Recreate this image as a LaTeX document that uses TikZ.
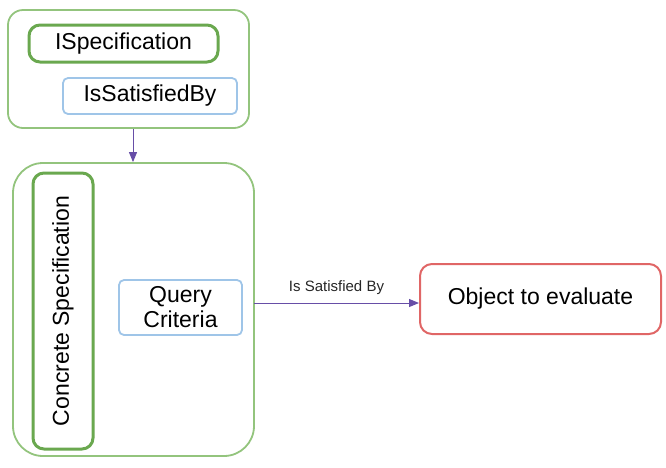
\documentclass[tikz,border=0pt]{standalone}
\usepackage{fontspec}
\setmainfont{Liberation Sans}
\usetikzlibrary{arrows.meta}
\definecolor{lgreen}{HTML}{93C47D}
\definecolor{dgreen}{HTML}{6AA84F}
\definecolor{lblue}{HTML}{9FC5E8}
\definecolor{lred}{HTML}{E06666}
\definecolor{purp}{HTML}{674EA7}
\tikzset{
  outerbox/.style={draw=lgreen, line width=1.8pt, rounded corners=#1},
  thickbox/.style={draw=dgreen, line width=3pt, rounded corners=11pt, inner sep=0pt},
  bluebox/.style={draw=lblue, line width=1.8pt, rounded corners=5pt, inner sep=0pt},
  redbox/.style={draw=lred, line width=2pt, rounded corners=12pt, inner sep=0pt},
  conn/.style={draw=purp, line width=1pt, -{Triangle[length=10pt,width=8pt]}},
  lbl/.style={font=\fontsize{23}{26}\selectfont, text=black}
}
\begin{document}
\begin{tikzpicture}[x=1pt,y=-1pt]
\useasboundingbox (0,0) rectangle (666,467);
% outer containers
\node[outerbox=15pt, minimum width=241pt, minimum height=118pt, inner sep=0pt] (top) at (128.5,69) {};
\node[outerbox=30pt, minimum width=241pt, minimum height=293pt, inner sep=0pt] (bottom) at (133.5,309.5) {};
% inner nodes
\node[thickbox, lbl, minimum width=189pt, minimum height=37pt] (ispec) at (123.5,43.5) {ISpecification};
\node[bluebox, lbl, minimum width=174pt, minimum height=36pt] (issat) at (150,96) {IsSatisfiedBy};
\node[thickbox, lbl, minimum width=276pt, minimum height=60pt, rotate=90] (concrete) at (63,311) {Concrete Specification};
\node[bluebox, lbl, minimum width=123pt, minimum height=55pt, align=center, font=\fontsize{23}{25}\selectfont] (query) at (180.5,307.5) {Query\\Criteria};
\node[redbox, lbl, minimum width=241pt, minimum height=70pt] (obj) at (540.5,299) {Object to evaluate};
% connectors
\draw[conn] (top.south -| 133,0) -- (bottom.north -| 133,0);
\coordinate (src) at (254,303);
\draw[conn] (src) -- (obj.west |- src) node[midway, above=5pt, font=\fontsize{15}{17}\selectfont, text=black!85] (lab) {Is Satisfied By};
\end{tikzpicture}
\end{document}
